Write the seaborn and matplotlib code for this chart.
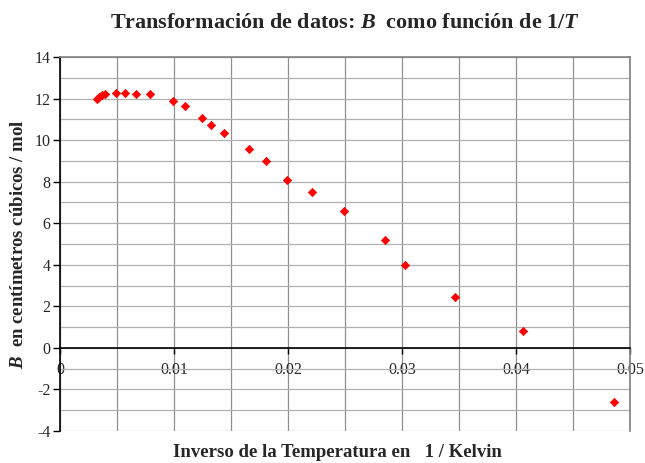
import seaborn as sns
import matplotlib.pyplot as plt
import matplotlib.ticker as mticker
import pandas as pd

# inverse temperature (1/K) and second virial coefficient B (cm3/mol)
inv_T = [0.00322, 0.00345, 0.00368, 0.00395, 0.00491, 0.00567, 0.00664, 0.00792,
         0.00994, 0.0110, 0.01246, 0.01328, 0.01442, 0.0166, 0.0181, 0.0199,
         0.02213, 0.02489, 0.02848, 0.03026, 0.03468, 0.04056, 0.0486]
B_vals = [11.98, 12.08, 12.15, 12.20, 12.27, 12.27, 12.20, 12.20,
          11.87, 11.63, 11.04, 10.73, 10.34, 9.58, 8.99, 8.08,
          7.50, 6.59, 5.19, 4.00, 2.45, 0.79, -2.62]

df = pd.DataFrame({"inv_T": inv_T, "B": B_vals})

sns.set_style("white")
plt.rcParams['font.family'] = ['Liberation Serif', 'DejaVu Serif']
plt.rcParams['axes.unicode_minus'] = False
plt.rcParams['mathtext.fontset'] = 'custom'
plt.rcParams['mathtext.rm'] = 'Liberation Serif'
plt.rcParams['mathtext.it'] = 'Liberation Serif:italic'
plt.rcParams['mathtext.bf'] = 'Liberation Serif:bold'
plt.rcParams['mathtext.bfit'] = 'Liberation Serif:italic:bold'

fig = plt.figure(figsize=(6.45, 4.63), dpi=100)
ax = fig.add_axes([0.093, 0.069, 0.884, 0.808])

sns.scatterplot(data=df, x="inv_T", y="B", ax=ax, marker="D", color="#ff0000",
                edgecolor="#ff0000", s=18, linewidth=0.5, zorder=3)

ax.set_xlim(0, 0.05)
ax.set_ylim(-4, 14)
ax.xaxis.set_major_locator(mticker.MultipleLocator(0.01))
ax.xaxis.set_minor_locator(mticker.MultipleLocator(0.005))
ax.yaxis.set_major_locator(mticker.MultipleLocator(2))
ax.yaxis.set_minor_locator(mticker.MultipleLocator(1))
ax.xaxis.set_major_formatter(mticker.FuncFormatter(lambda v, p: "0" if abs(v) < 1e-9 else f"{v:g}"))

ax.xaxis.grid(True, which="both", color="#909090", linewidth=0.9)
ax.yaxis.grid(True, which="both", color="#b0b0b0", linewidth=0.9)
ax.set_axisbelow(True)

# x axis crosses at y = 0
ax.spines['bottom'].set_position(('data', 0))
ax.spines['bottom'].set_color("black")
ax.spines['bottom'].set_linewidth(1.2)
ax.spines['left'].set_color("black")
ax.spines['left'].set_linewidth(1.2)
for s in ['top', 'right']:
    ax.spines[s].set_color("#808080")
    ax.spines[s].set_linewidth(1.2)

ax.tick_params(axis='x', which='major', direction='out', length=4, width=1, bottom=True,
               labelsize=11.5, pad=6, color="black")
ax.tick_params(axis='x', which='minor', length=0)
ax.tick_params(axis='y', which='major', direction='out', length=5, width=1, left=True,
               labelsize=11.5, pad=2, color="black")
ax.tick_params(axis='y', which='minor', length=0)

ax.set_xlabel("Inverso de la Temperatura en   1 / Kelvin", fontsize=13.5, fontweight="bold")
ax.xaxis.set_label_coords(0.486, -0.035)
ax.set_ylabel(r"$\mathbfit{B}$  en centímetros cúbicos / mol", fontsize=13.5, fontweight="bold")
ax.yaxis.set_label_coords(-0.058, 0.5)
ax.set_title(r"Transformación de datos: $\mathbfit{B}$  como función de 1/$\mathbfit{T}$",
             fontsize=15.9, fontweight="bold", pad=21)

fig.savefig("out.png", dpi=100)
